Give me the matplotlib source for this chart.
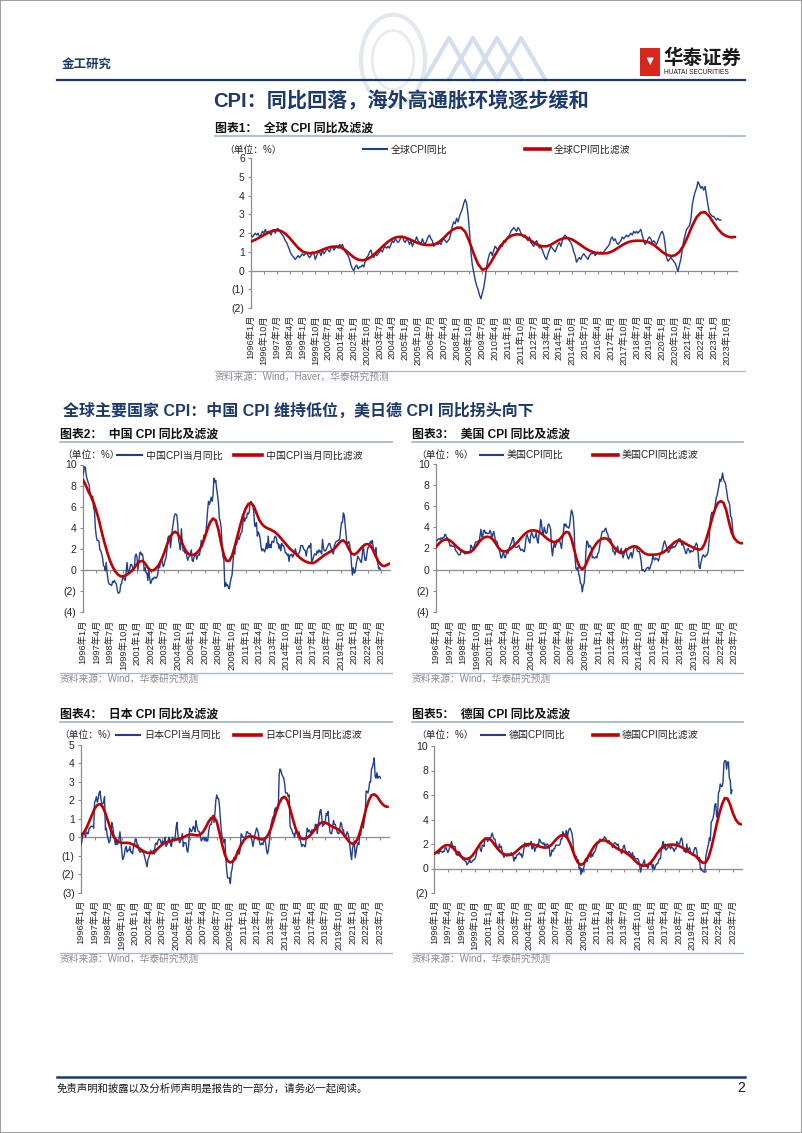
import matplotlib
matplotlib.use('Agg')
import matplotlib.pyplot as plt
from matplotlib.ticker import FuncFormatter, MultipleLocator
from matplotlib.lines import Line2D
from matplotlib.legend import Legend
from matplotlib.patches import Rectangle, Circle
import numpy as np

plt.rcParams['font.family'] = ['Liberation Sans', 'Noto Sans CJK SC']

# ---------------- data (monthly blue from 1996-01, red every 3 months from 1996-01) ----------------
global_cpi = [
    1.9, 1.8, 1.9, 2.0, 1.9, 2.0, 1.8, 1.9, 2.1, 2.0, 2.2, 2.0,
    2.1, 2.0, 1.9, 2.1, 2.2, 2.0, 2.2, 2.25, 2.1, 2.0, 1.9, 1.8,
    1.6, 1.5, 1.3, 1.1, 0.9, 0.8, 0.7, 0.6, 0.7, 0.8, 0.7, 0.8,
    0.9, 0.8, 0.9, 1.0, 0.8, 0.7, 0.8, 1.0, 0.9, 0.6, 0.8, 1.0,
    1.0, 0.8, 1.1, 0.9, 1.0, 1.2, 1.1, 1.0, 1.2, 1.3, 1.1, 1.2,
    1.3, 1.2, 1.4, 1.3, 1.4, 1.2, 1.0, 0.9, 0.8, 0.6, 0.3, 0.1,
    0.0, 0.2, 0.3, 0.1, 0.2, 0.2, 0.3, 0.2, 0.5, 0.7, 0.8, 1.0,
    1.1, 0.8, 0.7, 0.9, 0.8, 0.9, 1.0, 1.1, 1.0, 1.2, 1.3, 1.2,
    1.3, 1.2, 1.4, 1.6, 1.5, 1.7, 1.6, 1.5, 1.6, 1.8, 1.85, 1.6,
    1.5, 1.7, 1.6, 1.4, 1.6, 1.3, 1.5, 1.6, 1.8, 1.6, 1.5, 1.4,
    1.7, 1.5, 1.4, 1.6, 1.8, 1.9, 1.7, 1.6, 1.3, 1.4, 1.5, 1.4,
    1.5, 1.4, 1.6, 1.7, 1.6, 1.5, 1.6, 1.7, 2.0, 2.4, 2.6, 2.5,
    2.8, 2.6, 2.9, 3.1, 3.3, 3.6, 3.8, 3.6, 3.0, 2.1, 1.0, 0.3,
    -0.1, -0.5, -0.8, -1.0, -1.3, -1.5, -1.2, -0.9, -0.4, 0.2, 0.6, 0.9,
    1.0, 0.8, 1.1, 1.3, 1.2, 1.1, 1.3, 1.4, 1.3, 1.6, 1.5, 1.7,
    1.8, 1.9, 2.1, 2.2, 2.3, 2.2, 2.1, 2.3, 2.2, 2.0, 1.9, 1.8,
    1.9, 1.7, 1.6, 1.8, 1.5, 1.4, 1.3, 1.5, 1.6, 1.4, 1.2, 1.3,
    1.1, 0.9, 0.7, 0.6, 0.9, 1.1, 1.3, 1.2, 1.1, 1.0, 1.2, 1.4,
    1.5, 1.3, 1.6, 1.8, 1.9, 1.8, 1.7, 1.6, 1.5, 1.3, 1.0, 0.8,
    0.45, 0.6, 0.7, 0.6, 0.8, 0.9, 0.8, 0.7, 0.6, 0.8, 0.9, 0.9,
    1.0, 0.8, 0.9, 1.0, 0.9, 1.0, 0.9, 1.0, 1.1, 1.2, 1.3, 1.4,
    1.7, 1.8, 1.6, 1.7, 1.5, 1.4, 1.5, 1.6, 1.8, 1.7, 1.8, 1.9,
    1.8, 1.9, 2.0, 1.9, 2.1, 2.0, 2.1, 2.0, 2.1, 2.2, 1.9, 1.6,
    1.4, 1.5, 1.7, 1.8, 1.7, 1.5, 1.6, 1.5, 1.4, 1.6, 1.8, 2.0,
    2.1, 1.9, 1.4, 0.7, 0.5, 0.6, 0.7, 0.6, 0.5, 0.4, 0.2, -0.05,
    0.3, 0.6, 1.1, 1.6, 1.9, 2.2, 2.3, 2.4, 2.7, 3.5, 3.9, 4.2,
    4.4, 4.75, 4.6, 4.4, 4.5, 4.3, 4.5, 4.0, 3.5, 3.1, 3.0, 2.9,
    2.9, 2.8, 2.7, 2.8, 2.7, 2.7,
]
global_flt = [
    1.55, 1.65, 1.77, 1.90, 2.03, 2.13, 2.17, 2.12, 1.98, 1.75, 1.48, 1.22,
    1.03, 0.94, 0.93, 0.97, 1.05, 1.15, 1.23, 1.28, 1.29, 1.24, 1.10, 0.90,
    0.71, 0.59, 0.55, 0.60, 0.73, 0.92, 1.13, 1.35, 1.55, 1.70, 1.79, 1.81,
    1.77, 1.68, 1.57, 1.47, 1.40, 1.37, 1.37, 1.42, 1.55, 1.75, 1.98, 2.18,
    2.29, 2.30, 2.08, 1.55, 0.90, 0.35, 0.05, 0.12, 0.45, 0.85, 1.22, 1.52,
    1.75, 1.89, 1.94, 1.92, 1.82, 1.66, 1.50, 1.37, 1.30, 1.30, 1.38, 1.52,
    1.65, 1.73, 1.74, 1.66, 1.52, 1.36, 1.20, 1.07, 0.98, 0.93, 0.92, 0.93,
    1.00, 1.12, 1.27, 1.41, 1.52, 1.58, 1.60, 1.60, 1.57, 1.50, 1.38, 1.20,
    1.00, 0.85, 0.78, 0.82, 1.00, 1.35, 1.85, 2.40, 2.85, 3.10, 3.12, 2.90,
    2.55, 2.22, 1.98, 1.84, 1.78, 1.80,
]

china_cpi = [
    9.0, 9.3, 9.8, 9.7, 8.9, 8.6, 8.3, 8.1, 7.4, 7.0, 6.9, 7.0,
    5.9, 5.6, 4.0, 3.2, 2.8, 2.8, 2.7, 1.9, 1.8, 1.5, 1.1, 0.4,
    0.3, -0.1, 0.7, -0.3, -1.0, -1.3, -1.4, -1.4, -1.5, -1.1, -1.2, -1.0,
    -1.2, -1.3, -1.8, -2.2, -2.2, -2.1, -1.4, -1.3, -0.8, -0.6, -0.9, -1.0,
    -0.2, 0.7, -0.2, -0.3, 0.1, 0.5, 0.5, 0.3, 0.0, 0.0, 1.3, 1.5,
    1.2, 0.0, 0.8, 1.6, 1.7, 1.4, 1.5, 1.0, -0.1, 0.2, -0.3, -0.3,
    -1.0, 0.0, -0.8, -1.3, -1.1, -0.8, -0.9, -0.7, -0.7, -0.8, -0.7, -0.4,
    0.4, 0.2, 0.9, 1.0, 0.7, 0.3, 0.5, 0.9, 1.1, 1.8, 3.0, 3.2,
    3.2, 2.1, 3.0, 3.8, 4.4, 5.0, 5.3, 5.3, 5.2, 4.3, 2.8, 2.4,
    1.9, 3.9, 2.7, 1.8, 1.8, 1.6, 1.8, 1.3, 0.9, 1.2, 1.3, 1.6,
    1.9, 0.9, 0.8, 1.2, 1.4, 1.5, 1.0, 1.3, 1.5, 1.4, 1.9, 2.8,
    2.2, 2.7, 3.3, 3.0, 3.4, 4.4, 5.6, 6.5, 6.2, 6.5, 6.9, 6.5,
    7.1, 8.7, 8.3, 8.5, 7.7, 7.1, 6.3, 4.9, 4.6, 4.0, 2.4, 1.2,
    1.0, -1.6, -1.2, -1.5, -1.4, -1.7, -1.8, -1.2, -0.8, -0.5, 0.6, 1.9,
    1.5, 2.7, 2.4, 2.8, 3.1, 2.9, 3.3, 3.5, 3.6, 4.4, 5.1, 4.6,
    4.9, 4.9, 5.4, 5.3, 5.5, 6.4, 6.5, 6.2, 6.1, 5.5, 4.2, 4.1,
    4.5, 3.2, 3.6, 3.4, 3.0, 2.2, 1.8, 2.0, 1.9, 1.7, 2.0, 2.5,
    2.0, 3.2, 2.1, 2.4, 2.1, 2.7, 2.7, 2.6, 3.1, 3.2, 3.0, 2.5,
    2.5, 2.0, 2.4, 1.8, 2.5, 2.3, 2.3, 2.0, 1.6, 1.6, 1.4, 1.5,
    0.8, 1.4, 1.4, 1.5, 1.2, 1.4, 1.6, 2.0, 1.6, 1.3, 1.5, 1.6,
    1.8, 2.3, 2.3, 2.3, 2.0, 1.9, 1.8, 1.3, 1.9, 2.1, 2.3, 2.1,
    2.5, 0.8, 0.9, 1.2, 1.5, 1.5, 1.4, 1.8, 1.6, 1.9, 1.7, 1.8,
    1.5, 2.9, 2.1, 1.8, 1.8, 1.9, 2.1, 2.3, 2.5, 2.5, 2.2, 1.9,
    1.7, 1.5, 2.3, 2.5, 2.7, 2.7, 2.8, 2.8, 3.0, 3.8, 4.5, 4.5,
    5.4, 5.2, 4.3, 3.3, 2.4, 2.5, 2.7, 2.4, 1.7, 0.5, -0.5, 0.2,
    -0.3, -0.2, 0.4, 0.9, 1.3, 1.1, 1.0, 0.8, 0.7, 1.5, 2.3, 1.5,
    0.9, 0.9, 1.5, 2.1, 2.1, 2.5, 2.7, 2.5, 2.8, 2.1, 1.6, 1.8,
    2.1, 1.0, 0.7, 0.1, 0.2, 0.0,
]
china_flt = [
    8.60, 8.10, 7.50, 7.00, 6.40, 5.60, 4.70, 3.60, 2.60, 1.70, 0.90, 0.30,
    -0.15, -0.45, -0.62, -0.60, -0.50, -0.33, -0.12, 0.20, 0.55, 0.80, 0.85, 0.60,
    0.20, -0.05, -0.05, 0.15, 0.45, 0.95, 1.60, 2.35, 3.00, 3.45, 3.62, 3.45,
    2.95, 2.30, 1.80, 1.50, 1.40, 1.45, 1.60, 1.90, 2.40, 3.10, 3.90, 4.55,
    4.88, 4.70, 3.80, 2.50, 1.40, 0.85, 0.85, 1.35, 2.20, 3.20, 4.20, 5.10,
    5.80, 6.25, 6.35, 6.05, 5.40, 4.75, 4.35, 4.10, 3.95, 3.85, 3.70, 3.55,
    3.30, 3.00, 2.70, 2.40, 2.10, 1.85, 1.65, 1.40, 1.15, 0.95, 0.80, 0.70,
    0.65, 0.65, 0.80, 1.00, 1.20, 1.40, 1.55, 1.70, 1.85, 2.10, 2.40, 2.70,
    2.80, 2.55, 2.00, 1.55, 1.45, 1.60, 1.90, 2.20, 2.40, 2.45, 2.30, 1.85,
    1.25, 0.75, 0.45, 0.35, 0.45, 0.60,
]

us_cpi = [
    2.7, 2.7, 2.8, 2.9, 2.9, 2.8, 3.0, 2.9, 3.0, 3.0, 3.3, 3.3,
    3.0, 3.0, 2.8, 2.5, 2.2, 2.3, 2.2, 2.2, 2.2, 2.1, 1.8, 1.7,
    1.6, 1.4, 1.4, 1.4, 1.7, 1.7, 1.7, 1.6, 1.5, 1.5, 1.5, 1.6,
    1.7, 1.6, 1.7, 2.3, 2.1, 2.0, 2.1, 2.3, 2.6, 2.6, 2.6, 2.7,
    2.7, 3.2, 3.8, 3.1, 3.2, 3.7, 3.7, 3.4, 3.5, 3.4, 3.4, 3.4,
    3.7, 3.5, 2.9, 3.3, 3.6, 3.2, 2.7, 2.7, 2.6, 2.1, 1.9, 1.6,
    1.1, 1.1, 1.5, 1.6, 1.2, 1.1, 1.5, 1.8, 1.5, 2.0, 2.2, 2.4,
    2.6, 3.0, 3.0, 2.2, 2.1, 2.1, 2.1, 2.2, 2.3, 2.0, 1.8, 1.9,
    1.9, 1.7, 1.7, 2.3, 3.1, 3.3, 3.0, 2.7, 2.5, 3.2, 3.5, 3.3,
    3.0, 3.0, 3.1, 3.5, 2.8, 2.5, 3.2, 3.6, 4.7, 4.3, 3.5, 3.4,
    4.0, 3.6, 3.4, 3.5, 4.2, 4.3, 4.1, 3.8, 2.1, 1.3, 2.0, 2.5,
    2.1, 2.4, 2.8, 2.6, 2.7, 2.7, 2.4, 2.0, 2.8, 3.5, 4.3, 4.1,
    4.3, 4.0, 4.0, 3.9, 4.2, 5.0, 5.6, 5.4, 4.9, 3.7, 1.1, 0.1,
    0.0, 0.2, -0.4, -0.7, -1.3, -1.4, -2.1, -1.5, -1.3, -0.2, 1.8, 2.7,
    2.6, 2.1, 2.3, 2.2, 2.0, 1.1, 1.2, 1.1, 1.1, 1.2, 1.1, 1.5,
    1.6, 2.1, 2.7, 3.2, 3.6, 3.6, 3.6, 3.8, 3.9, 3.5, 3.4, 3.0,
    2.9, 2.9, 2.7, 2.3, 1.7, 1.7, 1.4, 1.7, 2.0, 2.2, 1.8, 1.7,
    1.6, 2.0, 1.5, 1.1, 1.4, 1.8, 2.0, 1.5, 1.2, 1.0, 1.2, 1.5,
    1.6, 1.1, 1.5, 2.0, 2.1, 2.1, 2.0, 1.7, 1.7, 1.7, 1.3, 0.8,
    -0.1, 0.0, -0.1, -0.2, 0.0, 0.1, 0.2, 0.2, 0.0, 0.2, 0.5, 0.7,
    1.4, 1.0, 0.9, 1.1, 1.0, 1.0, 0.8, 1.1, 1.5, 1.6, 1.7, 2.1,
    2.5, 2.7, 2.4, 2.2, 1.9, 1.6, 1.7, 1.9, 2.2, 2.0, 2.2, 2.1,
    2.1, 2.2, 2.4, 2.5, 2.8, 2.9, 2.9, 2.7, 2.3, 2.5, 2.2, 1.9,
    1.6, 1.5, 1.9, 2.0, 1.8, 1.6, 1.8, 1.7, 1.7, 1.8, 2.1, 2.3,
    2.5, 2.3, 1.5, 0.3, 0.1, 0.6, 1.0, 1.3, 1.4, 1.2, 1.2, 1.4,
    1.4, 1.7, 2.6, 4.2, 5.0, 5.4, 5.4, 5.3, 5.4, 6.2, 6.8, 7.0,
    7.5, 7.9, 8.5, 8.3, 8.6, 9.1, 8.5, 8.3, 8.2, 7.7, 7.1, 6.5,
    6.4, 6.0, 5.0, 4.9, 4.0, 3.0,
]
us_flt = [
    2.10, 2.40, 2.65, 2.80, 2.85, 2.78, 2.60, 2.35, 2.10, 1.88, 1.72, 1.62,
    1.60, 1.68, 1.90, 2.25, 2.60, 2.88, 3.05, 3.10, 3.05, 2.85, 2.50, 2.10,
    1.82, 1.70, 1.72, 1.85, 2.05, 2.30, 2.55, 2.85, 3.15, 3.40, 3.58, 3.68,
    3.70, 3.66, 3.55, 3.38, 3.15, 2.92, 2.75, 2.63, 2.60, 2.70, 2.95, 3.30,
    3.55, 3.50, 2.90, 1.90, 0.90, 0.25, 0.02, 0.30, 0.90, 1.50, 2.00, 2.40,
    2.70, 2.88, 2.95, 2.92, 2.70, 2.35, 2.00, 1.72, 1.57, 1.60, 1.78, 1.98,
    2.13, 2.20, 2.17, 1.98, 1.72, 1.52, 1.42, 1.40, 1.40, 1.42, 1.45, 1.52,
    1.65, 1.85, 2.10, 2.35, 2.58, 2.72, 2.72, 2.60, 2.45, 2.30, 2.18, 2.05,
    1.95, 1.88, 1.95, 2.40, 3.15, 4.05, 5.00, 5.80, 6.30, 6.45, 6.30, 5.60,
    4.50, 3.50, 2.95, 2.65, 2.50, 2.48,
]

japan_cpi = [
    -0.4, -0.2, 0.1, 0.3, 0.2, 0.0, 0.3, 0.2, 0.2, 0.5, 0.5, 0.6,
    0.6, 0.6, 0.5, 1.9, 2.0, 2.2, 1.9, 2.1, 2.4, 2.5, 2.1, 1.8,
    1.8, 1.9, 2.2, 0.4, 0.5, 0.1, -0.1, -0.3, -0.2, 0.2, 0.8, 0.6,
    0.2, -0.1, -0.4, -0.1, -0.4, -0.3, -0.1, 0.3, -0.2, -0.7, -1.2, -1.1,
    -0.9, -0.6, -0.5, -0.8, -0.7, -0.7, -0.5, -0.8, -0.8, -0.9, -0.5, -0.4,
    -0.1, -0.1, -0.4, -0.4, -0.7, -0.8, -0.8, -0.7, -0.8, -0.8, -1.0, -1.2,
    -1.4, -1.6, -1.2, -1.1, -0.9, -0.7, -0.8, -0.9, -0.7, -0.9, -0.4, -0.3,
    -0.4, -0.2, -0.1, -0.1, -0.2, -0.4, -0.2, -0.3, -0.2, 0.0, -0.5, -0.4,
    -0.3, 0.0, -0.1, -0.4, -0.5, 0.0, -0.1, -0.2, 0.0, 0.5, 0.8, 0.2,
    -0.1, -0.3, -0.2, 0.0, 0.2, -0.5, -0.3, -0.3, -0.3, -0.7, -0.8, -0.4,
    0.5, 0.4, 0.3, 0.4, 0.6, 0.5, 0.3, 0.9, 0.6, 0.4, 0.3, 0.3,
    0.0, -0.2, -0.1, 0.0, 0.0, -0.2, 0.0, -0.2, -0.2, 0.3, 0.6, 0.7,
    0.7, 1.0, 1.2, 0.8, 1.3, 2.0, 2.3, 2.1, 2.1, 1.7, 1.0, 0.4,
    0.0, -0.1, -0.3, -0.1, -1.1, -1.8, -2.2, -2.2, -2.2, -2.5, -1.9, -1.7,
    -1.3, -1.1, -1.1, -1.2, -0.9, -0.7, -0.9, -0.9, -0.6, 0.2, 0.1, 0.0,
    0.0, 0.0, 0.0, 0.3, 0.3, 0.2, 0.2, 0.2, 0.0, -0.2, -0.5, -0.2,
    0.1, 0.3, 0.5, 0.4, 0.2, -0.2, -0.4, -0.4, -0.3, -0.4, -0.2, -0.1,
    -0.3, -0.7, -0.9, -0.7, -0.3, 0.2, 0.7, 0.9, 1.1, 1.1, 1.5, 1.6,
    1.4, 1.5, 1.6, 3.4, 3.7, 3.6, 3.4, 3.3, 3.2, 2.9, 2.4, 2.4,
    2.4, 2.2, 2.3, 0.6, 0.5, 0.4, 0.2, 0.2, 0.0, 0.3, 0.3, 0.2,
    0.0, 0.3, -0.1, -0.3, -0.5, -0.4, -0.4, -0.5, -0.5, 0.1, 0.5, 0.3,
    0.4, 0.3, 0.2, 0.4, 0.4, 0.4, 0.4, 0.7, 0.7, 0.2, 0.6, 1.0,
    1.4, 1.5, 1.1, 0.6, 0.7, 0.7, 0.9, 1.3, 1.2, 1.4, 0.8, 0.3,
    0.2, 0.2, 0.5, 0.9, 0.7, 0.7, 0.5, 0.3, 0.2, 0.2, 0.5, 0.8,
    0.7, 0.4, 0.4, 0.1, 0.1, 0.1, 0.3, 0.2, 0.0, -0.4, -0.9, -1.2,
    -0.6, -0.4, -0.2, -1.1, -0.8, -0.5, -0.3, -0.4, 0.2, 0.1, 0.6, 0.8,
    0.5, 0.9, 1.2, 2.5, 2.5, 2.4, 2.6, 3.0, 3.0, 3.7, 3.8, 4.0,
    4.3, 3.3, 3.2, 3.5, 3.2, 3.3, 3.3, 3.2,
]
japan_flt = [
    0.10, 0.25, 0.50, 0.85, 1.20, 1.55, 1.75, 1.80, 1.65, 1.30, 0.85, 0.40,
    0.05, -0.15, -0.25, -0.30, -0.30, -0.30, -0.32, -0.38, -0.45, -0.55, -0.65, -0.75,
    -0.82, -0.85, -0.85, -0.80, -0.65, -0.50, -0.38, -0.30, -0.25, -0.20, -0.15, -0.12,
    -0.10, -0.05, 0.02, 0.10, 0.15, 0.15, 0.12, 0.10, 0.15, 0.30, 0.55, 0.85,
    1.05, 1.10, 0.85, 0.25, -0.40, -0.95, -1.28, -1.36, -1.30, -1.05, -0.70, -0.40,
    -0.15, 0.00, 0.05, 0.05, 0.00, -0.05, -0.10, -0.12, -0.05, 0.15, 0.50, 0.95,
    1.45, 1.85, 2.12, 2.20, 2.00, 1.55, 1.00, 0.50, 0.15, -0.05, -0.10, -0.05,
    0.05, 0.20, 0.40, 0.60, 0.75, 0.82, 0.80, 0.72, 0.62, 0.55, 0.48, 0.40,
    0.28, 0.10, -0.10, -0.28, -0.35, -0.30, -0.05, 0.40, 0.95, 1.55, 2.00, 2.28,
    2.33, 2.22, 2.00, 1.80, 1.68, 1.65,
]

germany_cpi = [
    1.2, 1.3, 1.3, 1.3, 1.3, 1.2, 1.5, 1.4, 1.4, 1.3, 1.4, 1.4,
    1.7, 1.7, 1.5, 1.3, 1.5, 1.7, 1.9, 2.2, 1.9, 1.8, 1.8, 1.8,
    1.2, 1.1, 1.1, 1.4, 1.3, 1.2, 1.0, 0.8, 0.7, 0.7, 0.6, 0.6,
    0.3, 0.4, 0.5, 0.8, 0.5, 0.5, 0.6, 0.7, 0.7, 0.8, 1.0, 1.4,
    1.8, 1.8, 1.9, 1.5, 1.4, 1.9, 1.9, 1.8, 2.5, 2.4, 2.4, 2.2,
    2.4, 2.5, 2.4, 2.7, 2.9, 2.6, 2.4, 2.4, 2.0, 1.9, 1.6, 1.6,
    2.0, 1.7, 1.8, 1.4, 1.1, 0.9, 1.1, 1.1, 1.0, 1.2, 1.1, 1.2,
    1.1, 1.3, 1.2, 1.0, 0.6, 0.9, 0.8, 1.1, 1.1, 1.2, 1.3, 1.1,
    1.2, 0.9, 1.1, 1.6, 2.1, 1.8, 1.8, 2.0, 1.8, 2.0, 2.0, 2.2,
    1.6, 1.8, 1.8, 1.4, 1.7, 1.7, 2.0, 1.8, 2.4, 2.3, 2.1, 2.1,
    2.0, 2.1, 1.8, 2.0, 1.9, 2.0, 1.9, 1.7, 1.0, 1.1, 1.5, 1.4,
    1.6, 1.6, 1.9, 1.9, 1.9, 1.9, 1.9, 2.0, 2.4, 2.4, 3.0, 2.8,
    2.8, 2.8, 3.1, 2.4, 3.0, 3.2, 3.3, 3.1, 2.9, 2.4, 1.4, 1.1,
    0.9, 1.0, 0.5, 0.7, 0.0, 0.1, -0.5, 0.0, -0.3, 0.0, 0.4, 0.8,
    0.8, 0.6, 1.1, 1.0, 1.2, 0.9, 1.2, 1.0, 1.3, 1.3, 1.5, 1.7,
    2.0, 2.1, 2.1, 2.4, 2.3, 2.3, 2.4, 2.4, 2.6, 2.5, 2.4, 2.1,
    2.1, 2.3, 2.1, 2.1, 1.9, 1.7, 1.9, 2.1, 2.1, 2.0, 1.9, 2.0,
    1.7, 1.5, 1.4, 1.2, 1.5, 1.8, 1.9, 1.5, 1.4, 1.2, 1.3, 1.4,
    1.3, 1.2, 1.0, 1.3, 0.9, 1.0, 0.8, 0.8, 0.8, 0.8, 0.6, 0.2,
    -0.3, 0.1, 0.3, 0.5, 0.7, 0.3, 0.2, 0.2, 0.0, 0.3, 0.4, 0.3,
    0.5, 0.0, 0.3, -0.1, 0.1, 0.3, 0.4, 0.4, 0.7, 0.8, 0.8, 1.7,
    1.9, 2.2, 1.6, 2.0, 1.5, 1.6, 1.7, 1.8, 1.8, 1.6, 1.8, 1.7,
    1.6, 1.4, 1.6, 1.6, 2.2, 2.1, 2.0, 2.0, 2.3, 2.5, 2.3, 1.7,
    1.4, 1.5, 1.3, 2.0, 1.4, 1.6, 1.7, 1.4, 1.2, 1.1, 1.1, 1.5,
    1.7, 1.7, 1.4, 0.9, 0.6, 0.9, -0.1, 0.0, -0.2, -0.2, -0.3, -0.3,
    1.0, 1.3, 1.7, 2.0, 2.5, 2.3, 3.8, 3.9, 4.1, 4.5, 5.2, 5.3,
    4.2, 4.3, 6.2, 6.3, 6.9, 6.7, 6.7, 7.0, 8.6, 8.8, 8.8, 8.1,
    8.7, 8.7, 7.4, 7.2, 6.1, 6.4,
]
germany_flt = [
    1.20, 1.35, 1.55, 1.75, 1.88, 1.92, 1.85, 1.65, 1.40, 1.15, 0.95, 0.82,
    0.78, 0.85, 1.05, 1.35, 1.70, 2.05, 2.30, 2.45, 2.45, 2.30, 2.00, 1.70,
    1.45, 1.25, 1.15, 1.10, 1.10, 1.18, 1.35, 1.55, 1.75, 1.90, 1.98, 2.00,
    1.98, 1.92, 1.85, 1.78, 1.72, 1.70, 1.75, 1.90, 2.15, 2.40, 2.60, 2.72,
    2.70, 2.50, 2.05, 1.45, 0.85, 0.45, 0.30, 0.40, 0.70, 1.10, 1.50, 1.85,
    2.10, 2.25, 2.30, 2.28, 2.18, 2.02, 1.85, 1.68, 1.55, 1.45, 1.35, 1.22,
    1.05, 0.85, 0.62, 0.42, 0.28, 0.22, 0.25, 0.35, 0.55, 0.85, 1.20, 1.50,
    1.72, 1.85, 1.92, 1.95, 1.95, 1.92, 1.85, 1.75, 1.62, 1.45, 1.30, 1.18,
    1.05, 0.85, 0.62, 0.45, 0.50, 0.90, 1.65, 2.60, 3.60, 4.50, 5.25, 5.75,
    5.70, 5.20, 4.50, 4.00, 3.70, 3.60,
]

# ---------------- style ----------------
BLUE = '#1F3F8F'
RED = '#C00000'
AXIS = '#8C8C8C'
NAVY = '#1B3A6B'
SEP = '#A7B8CD'
TXT = '#262626'

W, H = 802, 1133
fig = plt.figure(figsize=(W / 100, H / 100), dpi=100)


def fx(x):
    return x / W


def fy(y):
    return 1 - y / H


def paren(v, pos):
    if v < 0:
        return f"({abs(v):.0f})"
    return f"{v:.0f}"


def month_label(m):
    return f"{1996 + m // 12}年{m % 12 + 1}月"


def hline(x0, x1, y, color, lw):
    fig.add_artist(Line2D([fx(x0), fx(x1)], [fy(y), fy(y)], color=color, lw=lw,
                          transform=fig.transFigure))


def panel(l, t, r, b, blue, red, ymin, ymax, ystep, tstep, label_top):
    ax = fig.add_axes([fx(l), fy(b), (r - l) / W, (b - t) / H])
    ax.plot(np.arange(len(blue)), blue, color=BLUE, lw=1.0, zorder=3)
    ax.plot(np.arange(len(red)) * 3, red, color=RED, lw=1.9, zorder=4,
            solid_capstyle='round', solid_joinstyle='round')
    ax.set_xlim(0, 340)
    ax.set_ylim(ymin, ymax)
    ax.set_facecolor('none')
    for s in ['top', 'right']:
        ax.spines[s].set_visible(False)
    ax.spines['left'].set_color(AXIS)
    ax.spines['left'].set_linewidth(0.9)
    ax.spines['bottom'].set_position(('data', 0))
    ax.spines['bottom'].set_color(AXIS)
    ax.spines['bottom'].set_linewidth(0.9)
    ax.yaxis.set_major_locator(MultipleLocator(ystep))
    ax.yaxis.set_major_formatter(FuncFormatter(paren))
    ticks = list(range(0, 336, tstep))
    ax.set_xticks(ticks)
    ax.set_xticklabels([month_label(m) for m in ticks], rotation=90,
                       fontsize=6.7, color=TXT)
    y0 = t + ymax / (ymax - ymin) * (b - t)
    pad = (label_top - y0) * 0.72 - 2.2
    ax.tick_params(axis='x', direction='out', length=2.2, width=0.8,
                   color=AXIS, pad=pad)
    ax.tick_params(axis='y', direction='out', length=2.5, width=0.8,
                   color=AXIS, labelsize=7.5, labelcolor=TXT, pad=2)
    return ax


def legend_entry(ax, color, lw, text, x, y, length_px):
    h = Line2D([], [], color=color, lw=lw)
    leg = Legend(ax, [h], [text], loc='center left', frameon=False,
                 bbox_to_anchor=(fx(x), fy(y)), bbox_transform=fig.transFigure,
                 fontsize=7.2, handlelength=length_px / 10.0, handletextpad=0.4,
                 borderpad=0, borderaxespad=0, labelcolor=TXT)
    ax.add_artist(leg)


def chart_block(ax, title, tx, ty, sep_x0, sep_x1, names, unit_x, leg_y,
                blue_x, blue_len, red_x, red_len, src_y, source):
    fig.text(fx(tx), fy(ty), title, fontsize=8.6, fontweight='bold',
             color='#111111', va='center')
    hline(sep_x0, sep_x1, ty + 7, SEP, 1.3)
    fig.text(fx(unit_x), fy(leg_y), '（单位：%）', fontsize=7, color=TXT, va='center')
    legend_entry(ax, BLUE, 1.5, names[0], blue_x, leg_y, blue_len)
    legend_entry(ax, RED, 2.6, names[1], red_x, leg_y, red_len)
    hline(sep_x0, sep_x1, src_y - 6, SEP, 0.9)
    fig.text(fx(sep_x0), fy(src_y), source, fontsize=7, color='#8A8A8A', va='center')


# ---------------- page header ----------------
fig.add_artist(Rectangle((0, 0), 1, 1, transform=fig.transFigure, fill=False,
                         edgecolor='#A0A0A0', lw=1.5))
fig.add_artist(Circle((fx(393), fy(60)), 0.040, transform=fig.transFigure,
                      fill=False, edgecolor='#E3E8EF', lw=3))
fig.add_artist(Circle((fx(393), fy(60)), 0.026, transform=fig.transFigure,
                      fill=False, edgecolor='#E8ECF2', lw=2))
for k in range(4):
    xs = [fx(425 + 24 * k), fx(449 + 24 * k), fx(473 + 24 * k)]
    fig.add_artist(Line2D(xs, [fy(79), fy(38), fy(79)], color='#D3DEEC', lw=3,
                          transform=fig.transFigure))
fig.text(fx(62), fy(65), '金工研究', fontsize=9, fontweight='bold', color=NAVY, va='center')
fig.add_artist(Rectangle((fx(640), fy(76)), 20 / W, 28 / H, transform=fig.transFigure,
                         facecolor='#D7261E', edgecolor='none'))
fig.text(fx(650), fy(62), '▼', fontsize=9, color='white', ha='center', va='center')
fig.text(fx(663), fy(58), '华泰证券', fontsize=14, fontweight='bold', color='#1A1A1A',
         va='center')
fig.text(fx(664), fy(72), 'HUATAI SECURITIES', fontsize=4.8, color='#1A1A1A', va='center')
hline(57, 745, 80, NAVY, 1.6)

fig.text(fx(213), fy(101), 'CPI：同比回落，海外高通胀环境逐步缓和', fontsize=14.5,
         fontweight='bold', color=NAVY, va='center')

# ---------------- chart 1 ----------------
ax1 = panel(251, 158.3, 736.5, 308.1, global_cpi, global_flt, -2, 6, 1, 9, 315)
chart_block(ax1, '图表1：  全球 CPI 同比及滤波', 215, 129, 215, 745,
            ['全球CPI同比', '全球CPI同比滤波'], 224, 149.5, 363, 24, 525, 25,
            377, '资料来源：Wind，Haver，华泰研究预测')

fig.text(fx(63), fy(411), '全球主要国家 CPI：中国 CPI 维持低位，美日德 CPI 同比拐头向下',
         fontsize=11.5, fontweight='bold', color=NAVY, va='center')

# ---------------- chart 2: China ----------------
ax2 = panel(82.7, 464.5, 390.4, 612, china_cpi, china_flt, -4, 10, 2, 15, 620)
chart_block(ax2, '图表2：  中国 CPI 同比及滤波', 60, 435, 60, 392,
            ['中国CPI当月同比', '中国CPI当月同比滤波'], 62, 455.5, 117, 25, 234, 28,
            679, '资料来源：Wind，华泰研究预测')

# ---------------- chart 3: US ----------------
ax3 = panel(435.7, 463.5, 743.4, 612, us_cpi, us_flt, -4, 10, 2, 15, 620)
chart_block(ax3, '图表3：  美国 CPI 同比及滤波', 412, 435, 412, 743,
            ['美国CPI同比', '美国CPI同比滤波'], 416, 455, 480, 23, 593, 25,
            679, '资料来源：Wind，华泰研究预测')

# ---------------- chart 4: Japan ----------------
ax4 = panel(81, 745, 388.7, 892.7, japan_cpi, japan_flt, -3, 5, 1, 15, 900)
chart_block(ax4, '图表4：  日本 CPI 同比及滤波', 60, 715, 60, 392,
            ['日本CPI当月同比', '日本CPI当月同比滤波'], 59, 735, 116, 24, 234, 27,
            959, '资料来源：Wind，华泰研究预测')

# ---------------- chart 5: Germany ----------------
ax5 = panel(434.3, 746, 742, 893, germany_cpi, germany_flt, -2, 10, 2, 15, 900)
chart_block(ax5, '图表5：  德国 CPI 同比及滤波', 412, 715, 412, 743,
            ['德国CPI同比', '德国CPI同比滤波'], 416, 735, 481, 24, 593, 25,
            959, '资料来源：Wind，华泰研究预测')

# ---------------- footer ----------------
hline(57, 745, 1077, NAVY, 1.8)
fig.text(fx(57), fy(1088), '免责声明和披露以及分析师声明是报告的一部分，请务必一起阅读。',
         fontsize=7.5, style='italic', color='#1A1A1A', va='center')
fig.text(fx(745), fy(1088), '2', fontsize=10, color='#1A1A1A', ha='right', va='center')

fig.savefig('out.png', dpi=100)
